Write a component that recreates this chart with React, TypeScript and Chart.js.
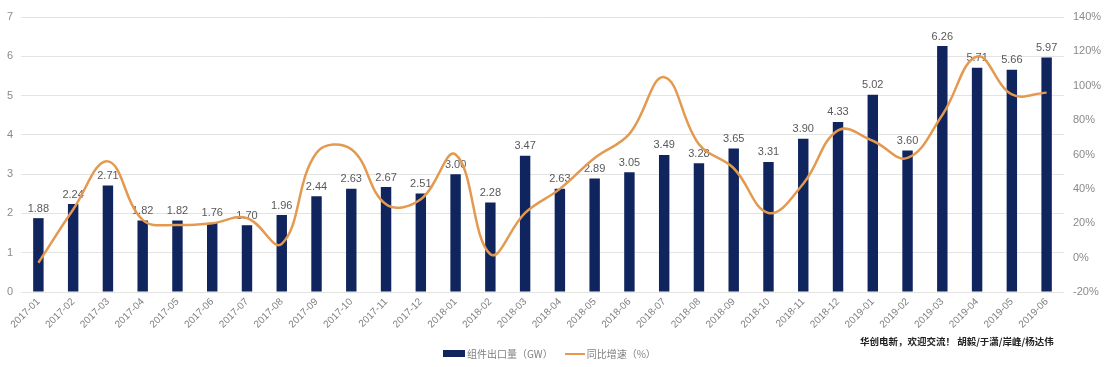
import React, { useEffect, useRef } from "react";
import { Chart, registerables } from "chart.js";

Chart.register(...registerables);

const categories = [
  "2017-01", "2017-02", "2017-03", "2017-04", "2017-05", "2017-06",
  "2017-07", "2017-08", "2017-09", "2017-10", "2017-11", "2017-12",
  "2018-01", "2018-02", "2018-03", "2018-04", "2018-05", "2018-06",
  "2018-07", "2018-08", "2018-09", "2018-10", "2018-11", "2018-12",
  "2019-01", "2019-02", "2019-03", "2019-04", "2019-05", "2019-06",
];

const exportVolume = [
  1.88, 2.24, 2.71, 1.82, 1.82, 1.76, 1.7, 1.96, 2.44, 2.63, 2.67, 2.51,
  3.0, 2.28, 3.47, 2.63, 2.89, 3.05, 3.49, 3.28, 3.65, 3.31, 3.9, 4.33,
  5.02, 3.6, 6.26, 5.71, 5.66, 5.97,
];

const yoyGrowth = [
  -3, 28, 56, 22, 19, 20, 23, 8, 61, 63, 31, 34,
  60, 2, 26, 40, 58, 72, 105, 66, 52, 26, 43, 74,
  68, 58, 83, 117, 95, 96,
];

const legendBar = "组件出口量（GW）";
const legendLine = "同比增速（%）";
const footnote = "华创电新，欢迎交流！ 胡毅/于潇/岸峰/杨达伟";

const BAR_COLOR = "#10245E";
const LINE_COLOR = "#E39A50";
const FONT = "'Liberation Sans', Arial, sans-serif";

const barLabelPlugin = {
  id: "barLabels",
  beforeDatasetsDraw(chart: any) {
    const ctx = chart.ctx;
    const meta = chart.getDatasetMeta(1);
    const data = chart.data.datasets[1].data as number[];
    ctx.save();
    ctx.font = `11px ${FONT}`;
    ctx.fillStyle = "#595959";
    ctx.textAlign = "center";
    ctx.textBaseline = "bottom";
    meta.data.forEach((el: any, i: number) => {
      ctx.fillText(data[i].toFixed(2), el.x, el.y - 4);
    });
    ctx.restore();
  },
};

export default function App() {
  const ref = useRef<HTMLCanvasElement | null>(null);

  useEffect(() => {
    if (!ref.current) return;
    const chart = new Chart(ref.current, {
      type: "bar",
      data: {
        labels: categories,
        datasets: [
          {
            type: "line",
            label: legendLine,
            data: yoyGrowth,
            yAxisID: "y1",
            borderColor: LINE_COLOR,
            borderWidth: 2.5,
            pointRadius: 0,
            tension: 0.4,
            fill: false,
            order: 1,
          } as any,
          {
            type: "bar",
            label: legendBar,
            data: exportVolume,
            yAxisID: "y",
            backgroundColor: BAR_COLOR,
            categoryPercentage: 1,
            barPercentage: 0.3,
            order: 2,
          },
        ],
      },
      options: {
        responsive: false,
        animation: false,
        layout: { padding: { top: 17, left: 0, right: 0, bottom: 0 } },
        plugins: {
          legend: { display: false },
          tooltip: { enabled: false },
        },
        scales: {
          x: {
            offset: true,
            grid: { display: false, drawTicks: false },
            border: { display: false },
            ticks: {
              minRotation: 45,
              maxRotation: 45,
              autoSkip: false,
              padding: 4,
              color: "#7f7f7f",
              font: { size: 10, family: FONT },
            },
            afterFit(scale: any) {
              scale.height = 75;
            },
          },
          y: {
            position: "left",
            min: 0,
            max: 7,
            ticks: {
              stepSize: 1,
              padding: 8,
              color: "#8a8a8a",
              font: { size: 11, family: FONT },
            },
            grid: { color: "#E3E3E3", drawTicks: false },
            border: { display: false },
            afterFit(scale: any) {
              scale.width = 21;
            },
          },
          y1: {
            position: "right",
            min: -20,
            max: 140,
            ticks: {
              stepSize: 20,
              padding: 9,
              color: "#8a8a8a",
              font: { size: 11, family: FONT },
              callback: (v: any) => `${v}%`,
            },
            grid: { display: false, drawTicks: false },
            border: { display: false },
            afterFit(scale: any) {
              scale.width = 41;
            },
          },
        },
      },
      plugins: [barLabelPlugin],
    });
    return () => chart.destroy();
  }, []);

  return (
    <div
      style={{
        position: "fixed",
        left: 0,
        top: 0,
        width: 1105,
        height: 367,
        background: "#fff",
      }}
    >
      <canvas ref={ref} width={1105} height={367} style={{ display: "block" }} />
      <div
        style={{
          position: "absolute",
          left: 443,
          top: 346,
          display: "flex",
          alignItems: "center",
          fontFamily: "'Noto Sans CJK SC', sans-serif",
          fontSize: 10,
          color: "#7f7f7f",
          whiteSpace: "nowrap",
        }}
      >
        <span style={{ display: "inline-block", width: 22, height: 7, background: BAR_COLOR, marginRight: 2 }} />
        <span>{legendBar}</span>
        <span style={{ display: "inline-block", width: 20, height: 2, background: LINE_COLOR, marginLeft: 12, marginRight: 2 }} />
        <span>{legendLine}</span>
      </div>
      <div
        style={{
          position: "absolute",
          left: 860,
          top: 334,
          fontFamily: "'Noto Sans CJK SC', sans-serif",
          fontSize: 9.5,
          fontWeight: 700,
          color: "#222",
          whiteSpace: "nowrap",
        }}
      >
        {footnote}
      </div>
    </div>
  );
}
